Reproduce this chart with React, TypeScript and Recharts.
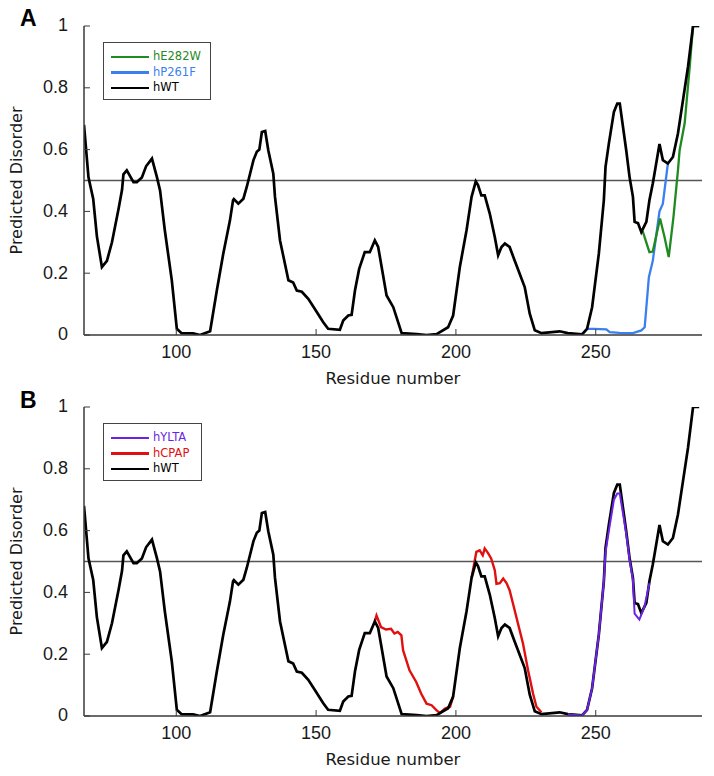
import React from 'react';
import { LineChart, Line, XAxis, YAxis, ReferenceLine, Legend } from 'recharts';

// ---------- data ----------
const WT_RES = [67, 68.6, 70.3, 71.6, 73.4, 75.2, 77, 79.4, 80.6, 81.1,
  82.3, 84.7, 85.9, 87.7, 89.2, 91.3, 93.1, 94.2, 95.9, 98.4,
  100.2, 101.9, 106, 108.5, 112.1, 114.5, 116.8, 119.2, 120.3, 120.6,
  122.2, 124, 125.2, 127.6, 128.8, 129.7, 130.6, 131.8, 132.9, 134.7,
  135.3, 137.1, 140.1, 141.8, 143.1, 144.9, 147.2, 149.5, 152.5, 154.3,
  158.5, 159.7, 161.5, 162.7, 163.9, 165.4, 167.4, 169.2, 171, 172.2,
  175.2, 177.6, 180.6, 186, 189.5, 193.1, 197.2, 199, 201.4, 203.8,
  205.6, 207.1, 207.9, 209.1, 210.3, 212.1, 213.9, 215.1, 216.3, 217.5,
  219.2, 221, 222.8, 224.6, 226.4, 228.2, 230.6, 237.1, 240, 245.1,
  246.9, 248.7, 251.1, 252.9, 253.5, 254.7, 256.5, 257.7, 258.6, 260.9,
  262.1, 263.3, 263.9, 265.1, 266.3, 268.1, 269.2, 270.4, 271, 272.8,
  274, 275.8, 277.6, 279.4, 281.2, 283, 284.8, 287];
const WT_VAL = [0.68, 0.51, 0.44, 0.32, 0.22, 0.24, 0.30, 0.41, 0.47, 0.52,
  0.533, 0.495, 0.495, 0.51, 0.546, 0.571, 0.51, 0.468, 0.339, 0.177,
  0.02, 0.006, 0.005, 0, 0.012, 0.144, 0.263, 0.371, 0.436, 0.44,
  0.425, 0.441, 0.479, 0.566, 0.593, 0.60, 0.657, 0.66, 0.598, 0.522,
  0.447, 0.306, 0.177, 0.17, 0.144, 0.14, 0.117, 0.085, 0.042, 0.02,
  0.017, 0.047, 0.063, 0.065, 0.144, 0.214, 0.268, 0.268, 0.306, 0.285,
  0.128, 0.09, 0.006, 0.003, 0, 0.003, 0.025, 0.063, 0.22, 0.339,
  0.447, 0.497, 0.485, 0.452, 0.452, 0.393, 0.317, 0.258, 0.285, 0.296,
  0.285, 0.241, 0.198, 0.155, 0.069, 0.015, 0.006, 0.012, 0.006, 0.002,
  0.02, 0.09, 0.263, 0.436, 0.544, 0.62, 0.722, 0.749, 0.749, 0.598,
  0.511, 0.447, 0.366, 0.362, 0.333, 0.366, 0.436, 0.49, 0.522, 0.618,
  0.566, 0.555, 0.576, 0.652, 0.76, 0.868, 1.0, 1.0];

const P261F_RES = [245.1, 246.9, 249.3, 253.8, 255, 258.5, 263.3, 266.3, 267.5, 269, 270.4, 272.8, 274, 275.8];
const P261F_VAL = [0.002, 0.02, 0.02, 0.018, 0.009, 0.007, 0.006, 0.015, 0.025, 0.187, 0.24, 0.40, 0.425, 0.555];

const E282W_RES = [266.3, 266.9, 269.2, 270.4, 273, 274.6, 276.1, 277.8, 279.4, 280, 281.8, 283.6, 284.8, 287];
const E282W_VAL = [0.333, 0.333, 0.268, 0.27, 0.377, 0.317, 0.252, 0.382, 0.533, 0.598, 0.685, 0.868, 1.0, 1.0];

const CPAP1_RES = [171, 171.6, 173.2, 175, 176.8, 178, 179.2, 180.5, 181.1, 183.4, 185.8, 187.6, 189.5, 191.3, 193.1, 194.3, 196.1, 197.9, 199];
const CPAP1_VAL = [0.306, 0.325, 0.288, 0.28, 0.282, 0.267, 0.272, 0.261, 0.213, 0.148, 0.11, 0.072, 0.04, 0.035, 0.018, 0.01, 0.024, 0.03, 0.063];
const CPAP2_RES = [205.6, 207.3, 208.5, 209.6, 210.3, 211.5, 212.6, 213.9, 214.5, 215.7, 216.9, 218.1, 219.2, 220.4, 222.2, 224, 225.8, 227.6, 228.8, 230.6];
const CPAP2_VAL = [0.447, 0.531, 0.536, 0.52, 0.542, 0.527, 0.51, 0.472, 0.428, 0.43, 0.445, 0.43, 0.407, 0.364, 0.299, 0.234, 0.148, 0.072, 0.03, 0.012];

const YLTA_RES = [240, 245.1, 246.9, 248.7, 251.1, 252.9, 253.5, 254.7, 256.5, 257.7, 258.6, 260.9, 262.1, 263.3, 263.9, 265.6, 267.4, 269.2];
const YLTA_VAL = [0.006, 0.002, 0.02, 0.09, 0.263, 0.436, 0.53, 0.60, 0.70, 0.72, 0.72, 0.59, 0.505, 0.44, 0.331, 0.312, 0.353, 0.43];

const X_TICKS = [100, 150, 200, 250];
const Y_TICKS = [0, 0.2, 0.4, 0.6, 0.8, 1];
const X_DOMAIN = [67, 288];
const THRESHOLD = 0.5;
const X_LABEL = 'Residue number';
const Y_LABEL = 'Predicted Disorder';

const zip = (xs: number[], ys: number[]) => xs.map((x, i) => ({ x, y: ys[i] }));

// ---------- styles ----------
const COLORS = {
  wt: '#000000',
  e282w: '#1f8a1f',
  p261f: '#3b7ff0',
  ylta: '#6a22e6',
  cpap: '#e01010',
};
const AXIS = '#3a3a3a';
const TICK_FONT = { fontFamily: 'Liberation Sans, Arial, sans-serif', fontSize: 18, fill: '#1a1a1a' };
const LABEL_FONT = 'DejaVu Sans, Verdana, sans-serif';

type Series = { key: string; name: string; color: string; data: { x: number; y: number }[]; width: number; legend: boolean };

const EmptyTick = () => <g />;

const YLabel = (props: any) => {
  const vb = props.viewBox || { y: 26, height: 309 };
  const cx = 16;
  const cy = vb.y + vb.height / 2;
  return (
    <text x={cx} y={cy} transform={`rotate(-90 ${cx} ${cy})`} textAnchor="middle" dominantBaseline="central"
      style={{ fontFamily: LABEL_FONT, fontSize: 16, fill: '#1a1a1a' }}>{Y_LABEL}</text>
  );
};

const makeLegend = (entries: Series[]) => () => (
  <div style={{
    boxSizing: 'border-box', border: '1.5px solid #444', background: '#fff',
    paddingTop: 6, width: '100%', height: '100%',
  }}>
    {entries.map((e) => (
      <div key={e.key} style={{ display: 'flex', alignItems: 'center', height: 15.5 }}>
        <span style={{ display: 'inline-block', marginLeft: 7, width: 38, height: 2.5, background: e.color }} />
        <span style={{ marginLeft: 4, fontFamily: LABEL_FONT, fontSize: 11.5, color: e.color, lineHeight: '15px' }}>{e.name}</span>
      </div>
    ))}
  </div>
);

function Panel({ series, legendOrder, legendBox }: { series: Series[]; legendOrder: Series[]; legendBox: { left: number; top: number; width: number; height: number } }) {
  return (
    <LineChart width={714} height={392} margin={{ top: 26, right: 12, left: 0, bottom: 0 }}>
      <XAxis xAxisId="b" type="number" dataKey="x" domain={X_DOMAIN} ticks={X_TICKS} allowDataOverflow
        height={57} tickSize={-6} tickMargin={16} stroke={AXIS} strokeWidth={1.5}
        tickLine={{ stroke: AXIS, strokeWidth: 1 }} tick={TICK_FONT}
        label={{ value: X_LABEL, position: 'insideBottom', offset: 8, style: { fontFamily: LABEL_FONT, fontSize: 16.5, fill: '#1a1a1a' } }} />
      <XAxis xAxisId="t" orientation="top" type="number" dataKey="x" domain={X_DOMAIN} ticks={X_TICKS} allowDataOverflow
        height={0} tickSize={-6} stroke={AXIS} strokeWidth={1.5} tickLine={{ stroke: AXIS, strokeWidth: 1 }} tick={EmptyTick} />
      <YAxis yAxisId="l" type="number" domain={[0, 1]} ticks={Y_TICKS} allowDataOverflow width={84}
        tickSize={-6} tickMargin={22} stroke={AXIS} strokeWidth={1.5}
        tickLine={{ stroke: AXIS, strokeWidth: 1 }} tick={{ ...TICK_FONT, dy: -1 }}
        label={<YLabel />} />
      <YAxis yAxisId="r" orientation="right" type="number" domain={[0, 1]} ticks={Y_TICKS} allowDataOverflow width={0}
        tickSize={-6} stroke={AXIS} strokeWidth={1.5} tickLine={{ stroke: AXIS, strokeWidth: 1 }} tick={EmptyTick} />
      <ReferenceLine xAxisId="b" yAxisId="l" y={THRESHOLD} stroke="#555" strokeWidth={1.5} />
      {series.map((s) => (
        <Line key={s.key} xAxisId="b" yAxisId="l" data={s.data} dataKey="y" name={s.name} type="linear"
          stroke={s.color} strokeWidth={s.width} dot={false} activeDot={false} isAnimationActive={false}
          legendType={s.legend ? 'line' : 'none'} />
      ))}
      <Legend layout="vertical" align="center" verticalAlign="middle"
        wrapperStyle={{ position: 'absolute', left: legendBox.left, top: legendBox.top, width: legendBox.width, height: legendBox.height, margin: 0, padding: 0 }}
        content={makeLegend(legendOrder)} />
    </LineChart>
  );
}

export default function App() {
  const wt: Series = { key: 'wt', name: 'hWT', color: COLORS.wt, data: zip(WT_RES, WT_VAL), width: 2.7, legend: true };
  const p261f: Series = { key: 'p261f', name: 'hP261F', color: COLORS.p261f, data: zip(P261F_RES, P261F_VAL), width: 2.3, legend: true };
  const e282w: Series = { key: 'e282w', name: 'hE282W', color: COLORS.e282w, data: zip(E282W_RES, E282W_VAL), width: 2.3, legend: true };
  const cpap1: Series = { key: 'cpap1', name: 'hCPAP', color: COLORS.cpap, data: zip(CPAP1_RES, CPAP1_VAL), width: 2.4, legend: true };
  const cpap2: Series = { key: 'cpap2', name: 'hCPAP', color: COLORS.cpap, data: zip(CPAP2_RES, CPAP2_VAL), width: 2.4, legend: false };
  const ylta: Series = { key: 'ylta', name: 'hYLTA', color: COLORS.ylta, data: zip(YLTA_RES, YLTA_VAL), width: 2, legend: true };

  const letterStyle: React.CSSProperties = {
    position: 'absolute', left: 20, fontFamily: 'Liberation Sans, Arial, sans-serif', fontWeight: 'bold',
    fontSize: 23, lineHeight: '23px', color: '#000',
  };

  return (
    <div style={{ position: 'absolute', left: 0, top: 0, width: 714, height: 776, background: '#fff', overflow: 'hidden' }}>
      <div style={{ position: 'absolute', left: 0, top: 0 }}>
        <Panel series={[p261f, e282w, wt]} legendOrder={[e282w, p261f, wt]}
          legendBox={{ left: 103, top: 42, width: 108, height: 58 }} />
      </div>
      <div style={{ position: 'absolute', left: 0, top: 381 }}>
        <Panel series={[cpap1, cpap2, wt, ylta]} legendOrder={[ylta, cpap1, wt]}
          legendBox={{ left: 103, top: 42, width: 99, height: 58 }} />
      </div>
      <div style={{ ...letterStyle, top: 7 }}>A</div>
      <div style={{ ...letterStyle, top: 389 }}>B</div>
    </div>
  );
}
